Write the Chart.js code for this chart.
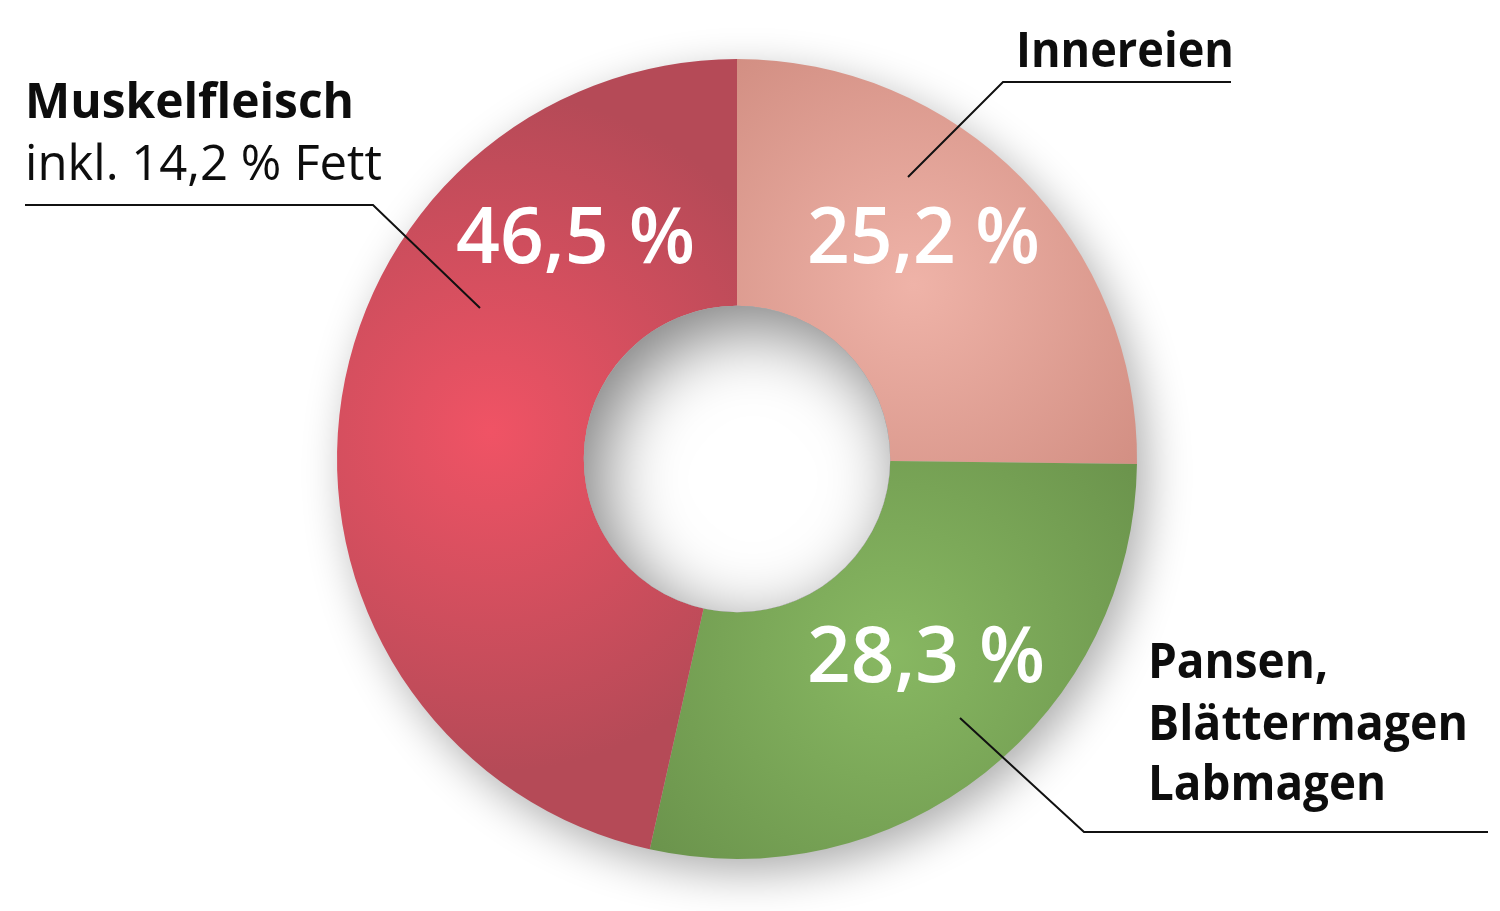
<!DOCTYPE html>
<html>
<head>
<meta charset="utf-8">
<script src="https://cdn.jsdelivr.net/npm/chart.js@4.4.1/dist/chart.umd.min.js"></script>
<style>
  html, body { margin: 0; padding: 0; background: #ffffff; }
  #wrap { width: 1500px; height: 911px; position: relative; }
</style>
</head>
<body>
<div id="wrap"><canvas id="c" width="1500" height="911"></canvas></div>
<script>
// ---- data ----
const categories = ['Innereien', 'Pansen, Blättermagen, Labmagen', 'Muskelfleisch'];
const values = [25.2, 28.3, 46.5];
const valueLabels = ['25,2 %', '28,3 %', '46,5 %'];
const categoryLines = [
  ['Innereien'],
  ['Pansen,', 'Blättermagen', 'Labmagen'],
  ['Muskelfleisch', 'inkl. 14,2 % Fett']
];

// ---- styles ----
const lightColors = ['#efb3a8', '#88b862', '#f05365'];
const darkColors  = ['#cd887c', '#68904a', '#b54a57'];
const FONT = '"Open Sans", "Noto Sans", sans-serif';

function segmentGradient(ctx) {
  const chart = ctx.chart;
  const i = ctx.dataIndex;
  const area = chart.chartArea;
  if (!area) return darkColors[i];
  const cx = (area.left + area.right) / 2;
  const cy = (area.top + area.bottom) / 2;
  const R = Math.min(area.right - area.left, area.bottom - area.top) / 2;
  const total = values.reduce((a, b) => a + b, 0);
  let before = 0;
  for (let k = 0; k < i; k++) before += values[k];
  const start = -Math.PI / 2 + (before / total) * Math.PI * 2;
  const end = start + (values[i] / total) * Math.PI * 2;
  const mid = (start + end) / 2;
  const gx = cx + Math.cos(mid) * R * 0.62;
  const gy = cy + Math.sin(mid) * R * 0.62;
  const g = chart.ctx.createRadialGradient(gx, gy, 0, gx, gy, R * 0.85);
  g.addColorStop(0, lightColors[i]);
  g.addColorStop(1, darkColors[i]);
  return g;
}

const shadowPlugin = {
  id: 'ringShadow',
  beforeDatasetsDraw(chart) {
    const arc = chart.getDatasetMeta(0).data[0];
    if (!arc) return;
    const c = chart.ctx;
    c.save();
    c.shadowColor = 'rgba(0,0,0,0.33)';
    c.shadowBlur = 45;
    c.shadowOffsetX = 10;
    c.shadowOffsetY = 14;
    c.beginPath();
    c.arc(arc.x, arc.y, arc.outerRadius - 1, 0, Math.PI * 2);
    c.fillStyle = '#c0c0c0';
    c.fill();
    c.restore();
  },
  afterDatasetsDraw(chart) {
    const arc = chart.getDatasetMeta(0).data[0];
    if (!arc) return;
    const c = chart.ctx;
    const r = arc.innerRadius;
    c.save();
    c.beginPath();
    c.arc(arc.x, arc.y, r, 0, Math.PI * 2);
    c.clip();
    c.fillStyle = '#ffffff';
    c.fillRect(arc.x - r - 2, arc.y - r - 2, 2 * r + 4, 2 * r + 4);
    c.shadowColor = 'rgba(0,0,0,0.5)';
    c.shadowBlur = 70;
    c.shadowOffsetX = 16;
    c.shadowOffsetY = 20;
    c.beginPath();
    c.arc(arc.x, arc.y, r + 400, 0, Math.PI * 2);
    c.arc(arc.x, arc.y, r, 0, Math.PI * 2, true);
    c.fillStyle = '#808080';
    c.fill();
    c.restore();
  }
};

function drawFit(c, text, x, y, w, align) {
  const nat = c.measureText(text).width;
  const s = w / nat;
  c.save();
  c.translate(x, y);
  c.scale(s, 1);
  c.textAlign = align;
  c.fillText(text, 0, 0);
  c.restore();
}

const labelPlugin = {
  id: 'labels',
  afterDraw(chart) {
    const arc = chart.getDatasetMeta(0).data[0];
    if (!arc) return;
    const c = chart.ctx;
    const cx = arc.x, cy = arc.y;
    c.save();
    c.textBaseline = 'alphabetic';

    // leader lines
    c.strokeStyle = '#111111';
    c.lineWidth = 2;
    c.lineJoin = 'miter';
    const leaders = [
      [[cx + 494, cy - 377], [cx + 266, cy - 377], [cx + 171, cy - 282]],
      [[cx + 751, cy + 373], [cx + 347, cy + 373], [cx + 223, cy + 259]],
      [[cx - 712, cy - 254], [cx - 364, cy - 254], [cx - 257, cy - 151]]
    ];
    leaders.forEach(pts => {
      c.beginPath();
      c.moveTo(pts[0][0], pts[0][1]);
      for (let k = 1; k < pts.length; k++) c.lineTo(pts[k][0], pts[k][1]);
      c.stroke();
    });

    // value labels (white)
    c.fillStyle = '#ffffff';
    c.font = '600 77px ' + FONT;
    const valPos = [[cx + 186.5, cy - 196, 233], [cx + 189, cy + 223, 238], [cx - 161.5, cy - 196, 239]];
    valueLabels.forEach((t, i) => drawFit(c, t, valPos[i][0], valPos[i][1], valPos[i][2], 'center'));

    // category labels (black)
    c.fillStyle = '#0d0d0d';
    c.font = '700 49px ' + FONT;
    drawFit(c, categoryLines[0][0], cx + 279, cy - 392, 218, 'left');
    const pW = [180, 320, 238];
    const pY = [cy + 219, cy + 281, cy + 341];
    categoryLines[1].forEach((t, k) => drawFit(c, t, cx + 411, pY[k], pW[k], 'left'));
    drawFit(c, categoryLines[2][0], cx - 712, cy - 341, 329, 'left');
    c.font = '400 49px ' + FONT;
    drawFit(c, categoryLines[2][1], cx - 712, cy - 279, 357, 'left');
    c.restore();
  }
};

new Chart(document.getElementById('c'), {
  type: 'doughnut',
  data: {
    labels: categories,
    datasets: [{
      data: values,
      backgroundColor: segmentGradient,
      borderWidth: 0,
      hoverOffset: 0
    }]
  },
  options: {
    responsive: false,
    animation: false,
    cutout: '38.3%',
    rotation: 0,
    layout: { padding: { left: 337, right: 363, top: 59, bottom: 52 } },
    plugins: { legend: { display: false }, tooltip: { enabled: false } },
    events: []
  },
  plugins: [shadowPlugin, labelPlugin]
});
</script>
</body>
</html>
